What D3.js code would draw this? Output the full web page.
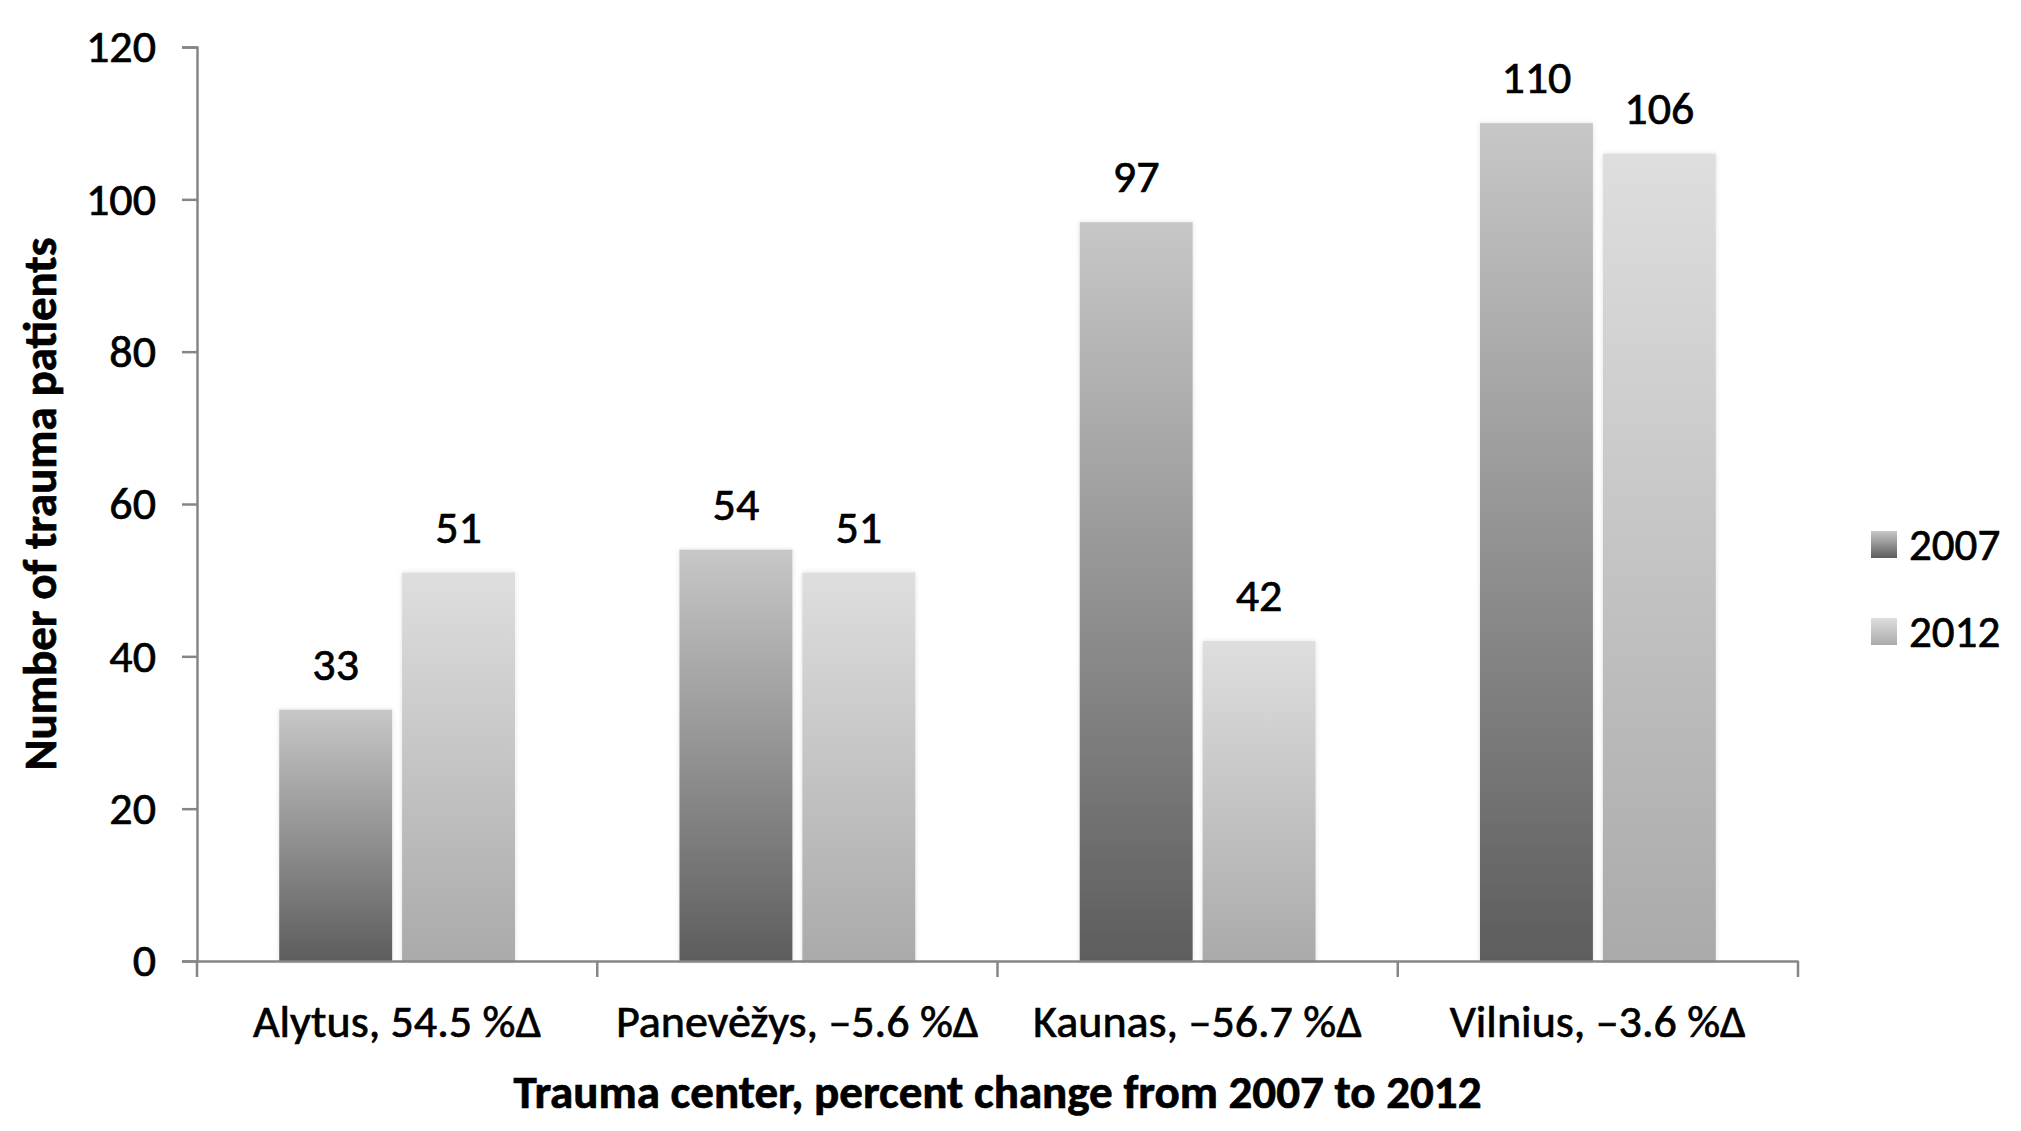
<!DOCTYPE html>
<html>
<head>
<meta charset="utf-8">
<script src="https://cdn.jsdelivr.net/npm/d3@7"></script>
<style>
  html, body { margin: 0; padding: 0; background: #fff; }
  svg { display: block; }
  text { font-family: Carlito, Lato, "Open Sans", sans-serif; fill: #000; stroke: #000; stroke-width: 0.7px; }
</style>
</head>
<body>
<script>
const categories = ["Alytus, 54.5 %\u0394", "Panev\u0117\u017Eys, \u20135.6 %\u0394", "Kaunas, \u201356.7 %\u0394", "Vilnius, \u20133.6 %\u0394"];
const seriesNames = ["2007", "2012"];
const values2007 = [33, 54, 97, 110];
const values2012 = [51, 51, 42, 106];
const yTicks = [0, 20, 40, 60, 80, 100, 120];
const yTitle = "Number of trauma patients";
const xTitle = "Trauma center, percent change from 2007 to 2012";

const W = 2021, H = 1131;
const mLeft = 197, mRight = 1798, mTop = 47, mBottom = 961;

const svg = d3.select("body").append("svg").attr("width", W).attr("height", H);
const defs = svg.append("defs");

const grads = {
  "2007": ["#c7c7c7", "#5d5d5d"],
  "2012": ["#dedede", "#aaaaaa"]
};
seriesNames.forEach(s => {
  const g = defs.append("linearGradient").attr("id", "g" + s)
    .attr("x1", 0).attr("y1", 0).attr("x2", 0).attr("y2", 1);
  g.append("stop").attr("offset", "0%").attr("stop-color", grads[s][0]);
  g.append("stop").attr("offset", "100%").attr("stop-color", grads[s][1]);
});
const flt = defs.append("filter").attr("id", "glow").attr("x", "-10%").attr("y", "-10%").attr("width", "120%").attr("height", "120%");
flt.append("feDropShadow").attr("dx", 0).attr("dy", 0).attr("stdDeviation", 2.5).attr("flood-color", "#000").attr("flood-opacity", 0.12);

const x = d3.scaleBand().domain(categories).range([mLeft, mRight]).paddingInner(0).paddingOuter(0);
const xs = d3.scaleBand().domain(seriesNames).range([0, x.bandwidth()]).paddingInner(0.081).paddingOuter(0.669);
const y = d3.scaleLinear().domain([0, 120]).range([mBottom, mTop]);

const data = categories.map((c, i) => ({ cat: c, vals: [
  { s: "2007", v: values2007[i] },
  { s: "2012", v: values2012[i] }
]}));

// bars
const groups = svg.append("g").selectAll("g").data(data).join("g")
  .attr("transform", d => `translate(${x(d.cat)},0)`);
groups.selectAll("rect").data(d => d.vals).join("rect")
  .attr("x", d => xs(d.s))
  .attr("y", d => y(d.v))
  .attr("width", xs.bandwidth())
  .attr("height", d => y(0) - y(d.v))
  .attr("fill", d => `url(#g${d.s})`)
  .attr("filter", "url(#glow)");
groups.selectAll("text.lab").data(d => d.vals).join("text")
  .attr("class", "lab")
  .attr("x", d => xs(d.s) + xs.bandwidth() / 2)
  .attr("y", d => y(d.v) - 30)
  .attr("text-anchor", "middle")
  .attr("font-size", 46)
  .text(d => d.v);

// y axis
const yAxis = svg.append("g").attr("transform", `translate(${mLeft},0)`)
  .call(d3.axisLeft(y).tickValues(yTicks).tickSize(15).tickPadding(26));
yAxis.select(".domain").attr("stroke", "#868686").attr("stroke-width", 2.5);
yAxis.selectAll(".tick line").attr("stroke", "#868686").attr("stroke-width", 2.5);
yAxis.selectAll(".tick text").attr("font-size", 46).attr("font-family", "Carlito, Lato, sans-serif").attr("fill", "#000");

// x axis
const xAxis = svg.append("g").attr("transform", `translate(0,${mBottom})`)
  .call(d3.axisBottom(x).tickSize(0).tickPadding(43));
xAxis.select(".domain").attr("stroke", "#868686").attr("stroke-width", 2.5);
xAxis.selectAll(".tick text").attr("font-size", 46).attr("font-family", "Carlito, Lato, sans-serif").attr("fill", "#000");
// category divider ticks
const dividers = categories.map(c => x(c)).concat([mRight]);
svg.append("g").selectAll("line").data(dividers).join("line")
  .attr("x1", d => d).attr("x2", d => d)
  .attr("y1", mBottom).attr("y2", mBottom + 16)
  .attr("stroke", "#868686").attr("stroke-width", 2.5);

// titles
svg.append("text")
  .attr("transform", `translate(56,${(mTop + mBottom) / 2}) rotate(-90)`)
  .attr("text-anchor", "middle")
  .attr("font-size", 47).attr("font-weight", "bold")
  .text(yTitle);
svg.append("text")
  .attr("x", (mLeft + mRight) / 2).attr("y", 1108)
  .attr("text-anchor", "middle")
  .attr("font-size", 47).attr("font-weight", "bold")
  .text(xTitle);

// legend
const legend = svg.append("g").selectAll("g").data(seriesNames).join("g")
  .attr("transform", (d, i) => `translate(1871,${531 + i * 87})`);
legend.append("rect").attr("width", 26).attr("height", 27)
  .attr("fill", d => `url(#g${d})`);
legend.append("text").attr("x", 38).attr("y", 13).attr("dy", "0.35em")
  .attr("font-size", 45).text(d => d);
</script>
</body>
</html>
